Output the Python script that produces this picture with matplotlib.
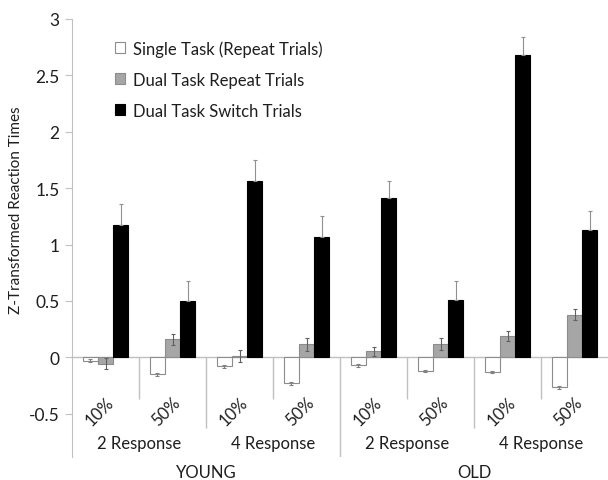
import numpy as np
import matplotlib
matplotlib.use("Agg")
import matplotlib.pyplot as plt
from matplotlib.patches import Patch

plt.rcParams['font.family'] = ['Lato', 'DejaVu Sans']

# data
pct_labels = ['10%', '50%', '10%', '50%', '10%', '50%', '10%', '50%']
resp_labels = ['2 Response', '4 Response', '2 Response', '4 Response']
age_labels = ['YOUNG', 'OLD']
series_names = ['Single Task (Repeat Trials)', 'Dual Task Repeat Trials', 'Dual Task Switch Trials']

single_task = [-0.03, -0.15, -0.08, -0.23, -0.07, -0.12, -0.13, -0.265]
single_err = [0.012, 0.015, 0.012, 0.015, 0.012, 0.012, 0.012, 0.012]
dual_repeat = [-0.055, 0.16, 0.012, 0.115, 0.056, 0.118, 0.19, 0.38]
dual_repeat_err = [0.05, 0.05, 0.05, 0.055, 0.04, 0.055, 0.045, 0.05]
dual_switch = [1.175, 0.50, 1.565, 1.07, 1.41, 0.51, 2.685, 1.125]
dual_switch_err = [0.185, 0.18, 0.185, 0.185, 0.15, 0.17, 0.155, 0.175]

fig = plt.figure(figsize=(6.08, 4.81), dpi=100)
ax = fig.add_axes([72/608, (481-458)/481, 536/608, 438/481])

x = np.arange(len(pct_labels))
w = 0.224
txt = '#1e1e1e'
line_col = '#c0c0c0'

ax.bar(x - w, single_task, w, color='white', edgecolor='#8c8c8c', linewidth=0.8, zorder=2)
ax.bar(x, dual_repeat, w, color='#a6a6a6', edgecolor='#8c8c8c', linewidth=0.8, zorder=2)
ax.bar(x + w, dual_switch, w, color='black', edgecolor='black', linewidth=0.8, zorder=2)

ax.errorbar(x - w, single_task, yerr=single_err, fmt='none', ecolor='#808080', elinewidth=0.8, capsize=1.5, capthick=0.8, zorder=3)
ax.errorbar(x, dual_repeat, yerr=dual_repeat_err, fmt='none', ecolor='#606060', elinewidth=0.8, capsize=1.5, capthick=0.8, zorder=3)
ax.errorbar(x + w, dual_switch, yerr=[np.zeros(len(x)), dual_switch_err], fmt='none', ecolor='#909090', elinewidth=0.8, capsize=1.5, capthick=0.8, zorder=3)

ax.set_xlim(-0.5, 7.5)
ax.set_ylim(-0.883, 3)
ax.set_yticks([-0.5, 0, 0.5, 1, 1.5, 2, 2.5, 3])
ax.set_yticklabels(['-0.5', '0', '0.5', '1', '1.5', '2', '2.5', '3'])
ax.set_xticks([])
ax.tick_params(axis='y', length=5, color=line_col, labelsize=12.5, labelcolor=txt, pad=4)
for s in ['top', 'right', 'bottom']:
    ax.spines[s].set_visible(False)
ax.spines['left'].set_color(line_col)
ax.axhline(0, color=line_col, linewidth=1, zorder=1)

# multi-level category separators
ax.vlines([0.5, 2.5, 4.5, 6.5], -0.37, 0, color=line_col, linewidth=1)
ax.vlines([1.5, 5.5], -0.63, 0, color=line_col, linewidth=1)
ax.vlines([3.5], -0.883, 0, color=line_col, linewidth=1)

for i, lab in enumerate(pct_labels):
    ax.text(i - 0.09, -0.475, lab, rotation=45, ha='center', va='center', fontsize=12, color=txt)
for i, lab in enumerate(resp_labels):
    ax.text(2 * i + 0.5, -0.76, lab, ha='center', va='center', fontsize=12, color=txt)
for i, lab in enumerate(age_labels):
    ax.text(4 * i + 1.5, -1.02, lab, ha='center', va='center', fontsize=12, color=txt, clip_on=False)

ax.set_ylabel('Z-Transformed Reaction Times', fontsize=11, color=txt)
ax.yaxis.set_label_coords(-0.091, 0.566)

handles = [Patch(facecolor='white', edgecolor='#8c8c8c', linewidth=0.8),
           Patch(facecolor='#a6a6a6', edgecolor='#8c8c8c', linewidth=0.8),
           Patch(facecolor='black', edgecolor='black', linewidth=0.8)]
leg = ax.legend(handles, series_names, loc='upper left', bbox_to_anchor=(100/608, 1 - 26/481),
                bbox_transform=fig.transFigure, frameon=False, fontsize=12,
                handlelength=0.6, handleheight=0.6, handletextpad=0.5, labelspacing=0.9)
for t in leg.get_texts():
    t.set_color(txt)

fig.savefig('out.png', dpi=100)
